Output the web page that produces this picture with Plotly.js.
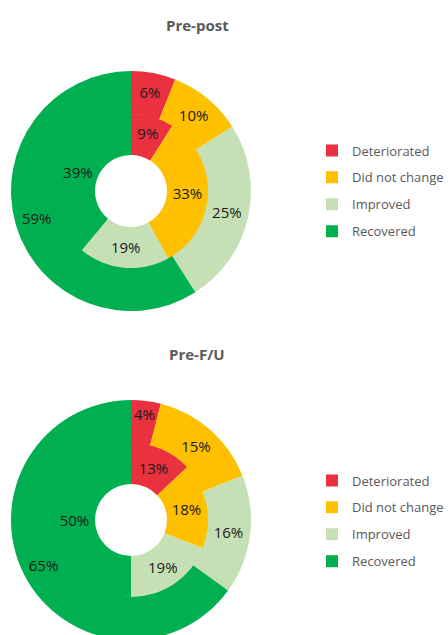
<!DOCTYPE html>
<html>
<head>
<meta charset="utf-8">
<script src="https://cdn.plot.ly/plotly-3.0.1.min.js"></script>
<style>
html,body{margin:0;padding:0;overflow:hidden;background:#fff;}
#chart{width:448px;height:650px;}
</style>
</head>
<body>
<div id="chart"></div>
<script>
// ---- data ----
const categories = ['Deteriorated', 'Did not change', 'Improved', 'Recovered'];
const colors = ['#EA3140', '#FFC000', '#C5E0B4', '#00B050'];
const chartTitles = ['Pre-post', 'Pre-F/U'];
const prePostOuter = [6, 10, 25, 59];
const prePostInner = [9, 33, 19, 39];
const preFUOuter = [4, 15, 16, 65];
const preFUInner = [13, 18, 19, 50];

// ---- layout helpers (pixels -> paper) ----
const W = 448, H = 650;
function dom(cx, cy, r) {
  return { x: [(cx - r) / W, (cx + r) / W], y: [1 - (cy + r) / H, 1 - (cy - r) / H] };
}
const labelFont = { family: 'Open Sans, sans-serif', size: 15, color: '#1a1a1a' };

function ring(values, cx, cy, r, hole) {
  return {
    type: 'pie', values: values, labels: categories, sort: false,
    direction: 'clockwise', rotation: 0, hole: hole,
    domain: dom(cx, cy, r),
    marker: { colors: colors, line: { width: 0 } },
    texttemplate: '%{value}%', textinfo: 'text', textposition: 'inside',
    insidetextorientation: 'horizontal', textfont: labelFont,
    showlegend: false, hoverinfo: 'label+value'
  };
}
function legendDummies(cx, cy, legendName) {
  return categories.map((c, i) => ({
    type: 'pie', values: [1], labels: [c], sort: false,
    domain: dom(cx, cy, 4),
    marker: { colors: [colors[i]], line: { width: 0 } },
    textinfo: 'none', hoverinfo: 'skip',
    legend: legendName, legendgroup: legendName + i, showlegend: true
  }));
}

const centers = [[131, 191], [131, 520]];
const R = 120, RI = 77, RH = 36;

const data = [].concat(
  legendDummies(40, 191, 'legend'),
  legendDummies(40, 520, 'legend2'),
  [
    ring(prePostOuter, centers[0][0], centers[0][1], R, (RI - 0.6) / R),
    ring(prePostInner, centers[0][0], centers[0][1], RI, RH / RI),
    ring(preFUOuter, centers[1][0], centers[1][1], R, (RI - 0.6) / R),
    ring(preFUInner, centers[1][0], centers[1][1], RI, RH / RI)
  ]
);

const legendBase = {
  xanchor: 'left', yanchor: 'middle', traceorder: 'grouped', tracegroupgap: 7,
  font: { family: 'Open Sans, sans-serif', size: 13, color: '#595959' },
  bgcolor: 'rgba(0,0,0,0)', itemclick: false, itemdoubleclick: false
};

const layout = {
  width: W, height: H,
  margin: { l: 0, r: 0, t: 0, b: 0, autoexpand: false },
  paper_bgcolor: '#fff',
  showlegend: true,
  uniformtext: { minsize: 15, mode: 'show' },
  legend: Object.assign({}, legendBase, { x: 312 / W, y: 1 - 191 / H }),
  legend2: Object.assign({}, legendBase, { x: 312 / W, y: 1 - 521 / H }),
  annotations: [
    { text: '<b>' + chartTitles[0] + '</b>', xref: 'paper', yref: 'paper', x: 197 / W, y: 1 - 25 / H,
      showarrow: false, xanchor: 'center', yanchor: 'middle',
      font: { family: 'Open Sans, sans-serif', size: 15, color: '#595959' } },
    { text: '<b>' + chartTitles[1] + '</b>', xref: 'paper', yref: 'paper', x: 197 / W, y: 1 - 354 / H,
      showarrow: false, xanchor: 'center', yanchor: 'middle',
      font: { family: 'Open Sans, sans-serif', size: 15, color: '#595959' } }
  ]
};

Plotly.newPlot('chart', data, layout, { displayModeBar: false, staticPlot: true });
</script>
</body>
</html>
